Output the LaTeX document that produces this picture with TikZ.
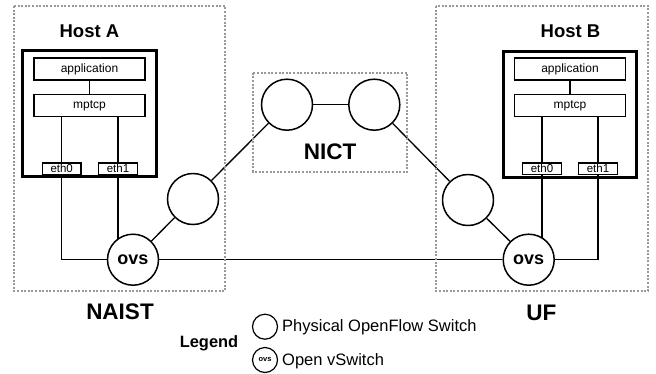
\documentclass[tikz,border=0pt]{standalone}
\usepackage{fontspec}
\setmainfont{Liberation Sans}
\usetikzlibrary{backgrounds}
\begin{document}
\begin{tikzpicture}[x=1pt,y=-1pt,
  host/.style={draw, line width=3pt, minimum width=133.7pt, minimum height=126pt, inner sep=0pt},
  layerbox/.style={draw, line width=1.3pt, minimum width=111pt, minimum height=22pt, inner sep=0pt, font=\fontsize{12}{14}\selectfont},
  ethbox/.style={draw, line width=1.3pt, minimum width=38.7pt, minimum height=11.4pt, inner sep=0pt, font=\fontsize{11.5}{12}\selectfont},
  sw/.style={circle, draw, line width=1.5pt, minimum size=51pt, fill=white, inner sep=0pt},
  ovsnode/.style={sw, font=\bfseries\fontsize{18}{18}\selectfont},
  dotbox/.style={draw=gray!80, line width=2.2pt, dash pattern=on 2pt off 1.6pt},
  link/.style={line width=1.3pt},
  site/.style={anchor=base, inner sep=0pt, font=\bfseries\fontsize{22.5}{24}\selectfont},
  hostlbl/.style={anchor=base, inner sep=0pt, font=\bfseries\fontsize{18.5}{20}\selectfont},
  legtxt/.style={anchor=base west, inner sep=0pt, font=\fontsize{16.5}{18}\selectfont}
]
\useasboundingbox (0,0) rectangle (656,373);

% site boxes
\draw[dotbox] (14,6) rectangle (225,291);
\draw[dotbox] (436,6) rectangle (648,291);
\draw[dotbox] (253.3,72.7) rectangle (407.3,171.7);

% Host A
\node[host] (hostA) at (89.4,113.8) {};
\node[hostlbl] (hostAlbl) at (89.4,37.7) {Host A};
\node[layerbox] (appA) at (89.5,69) {application};
\node[layerbox] (mpA) at (89.5,105.7) {mptcp};
\node[ethbox] (eth0A) at (61.7,168.6) {eth0};
\node[ethbox] (eth1A) at (118,168.6) {eth1};

% Host B
\node[host] (hostB) at (570,114) {};
\node[hostlbl] (hostBlbl) at (570.5,37.7) {Host B};
\node[layerbox] (appB) at (570,69) {application};
\node[layerbox] (mpB) at (570,105.7) {mptcp};
\node[ethbox] (eth0B) at (542,168.6) {eth0};
\node[ethbox] (eth1B) at (598,168.6) {eth1};

% switches
\node[ovsnode] (ovsA) at (133,259.7) {ovs};
\node[ovsnode] (ovsB) at (528.7,259.7) {ovs};
\node[sw] (swA) at (193,199) {};
\node[sw] (swB) at (468,200) {};
\node[sw] (nictL) at (287,104.7) {};
\node[sw] (nictR) at (374.3,104.7) {};

% site labels
\node[site] (naist) at (120,319) {NAIST};
\node[site] (nict) at (330,159) {NICT};
\node[site] (uf) at (541.3,320) {UF};

% legend
\node[anchor=base, inner sep=0pt, font=\bfseries\fontsize{16.4}{18}\selectfont] (legend) at (209,347) {Legend};
\node[circle, draw, line width=1.2pt, minimum size=25pt, inner sep=0pt] (lgsw) at (265,326.7) {};
\node[circle, draw, line width=1.2pt, minimum size=25pt, inner sep=0pt, font=\bfseries\fontsize{7.5}{8}\selectfont] (lgovs) at (265,360) {ovs};
\node[legtxt] (lgswtxt) at (282,331.7) {Physical OpenFlow Switch};
\node[legtxt] (lgovstxt) at (282,365) {Open vSwitch};

% connectors
\begin{scope}[on background layer]
\draw[link] (appA.south) -- (mpA.north);
\draw[link] (eth0A.north) -- (eth0A.north |- mpA.south);
\draw[link] (eth1A.north) -- (eth1A.north |- mpA.south);
\draw[link] (eth0A.south) |- (ovsA.west);
\draw[link] (eth1A.south) -- (eth1A.south |- ovsA.center);

\draw[link] (appB.south) -- (mpB.north);
\draw[link] (eth0B.north) -- (eth0B.north |- mpB.south);
\draw[link] (eth1B.north) -- (eth1B.north |- mpB.south);
\draw[link] (eth0B.south) -- (eth0B.south |- ovsB.center);
\draw[link] (eth1B.south) |- (ovsB.east);

\draw[link] (ovsA) -- (swA);
\draw[link] (swA) -- (nictL);
\draw[link] (nictL) -- (nictR);
\draw[link] (nictR) -- (swB);
\draw[link] (swB) -- (ovsB);
\draw[link] (ovsA) -- (ovsB);
\end{scope}
\end{tikzpicture}
\end{document}
